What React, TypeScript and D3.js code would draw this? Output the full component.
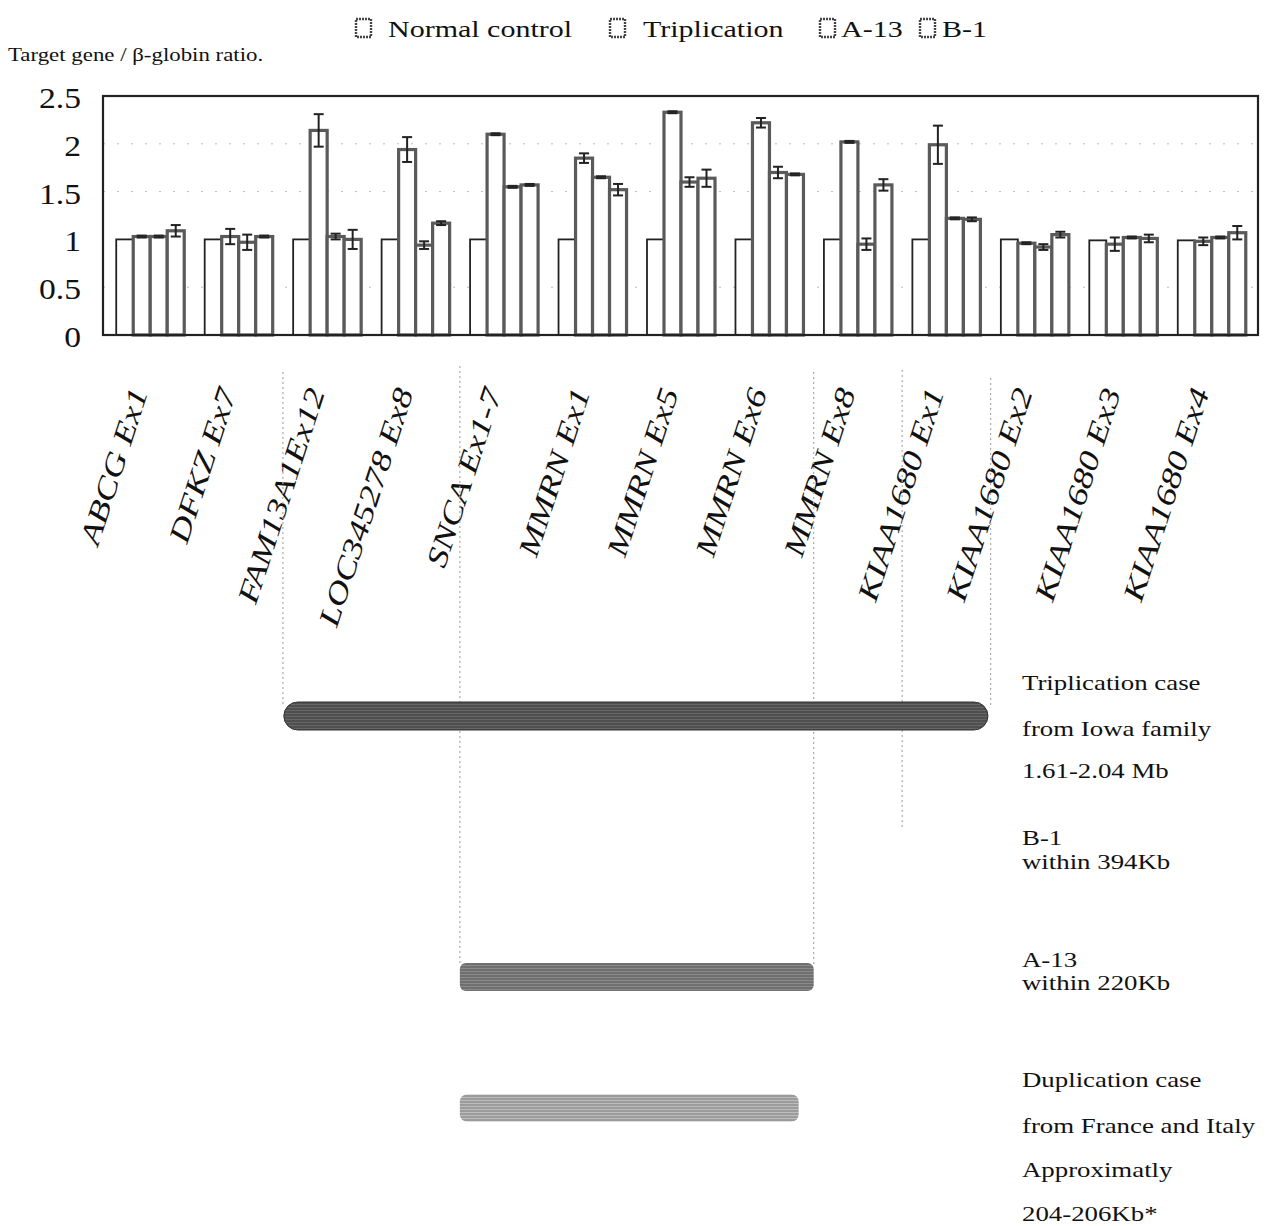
import React from "react";
import * as d3 from "d3";

// ---------- data ----------
const categories = [
  "ABCG Ex1",
  "DFKZ Ex7",
  "FAM13A1Ex12",
  "LOC345278 Ex8",
  "SNCA Ex1-7",
  "MMRN Ex1",
  "MMRN Ex5",
  "MMRN Ex6",
  "MMRN Ex8",
  "KIAA1680 Ex1",
  "KIAA1680 Ex2",
  "KIAA1680 Ex3",
  "KIAA1680 Ex4",
];
const seriesNames = ["Normal control", "Triplication", "A-13", "B-1"];

const normalControl = [1, 1, 1, 1, 1, 1, 1, 1, 1, 1, 1, 0.99, 0.99];
const normalControlErr = [0, 0, 0, 0, 0, 0, 0, 0, 0, 0, 0, 0, 0];
const triplication = [1.03, 1.03, 2.14, 1.94, 2.1, 1.85, 2.33, 2.22, 2.02, 1.99, 0.96, 0.95, 0.98];
const triplicationErr = [0.01, 0.08, 0.17, 0.13, 0.01, 0.05, 0.01, 0.05, 0.01, 0.2, 0.01, 0.07, 0.04];
const a13 = [1.03, 0.97, 1.03, 0.94, 1.55, 1.65, 1.6, 1.7, 0.95, 1.22, 0.92, 1.02, 1.02];
const a13Err = [0.01, 0.08, 0.03, 0.04, 0.01, 0.01, 0.05, 0.06, 0.06, 0.01, 0.03, 0.01, 0.01];
const b1 = [1.09, 1.03, 1.0, 1.17, 1.57, 1.52, 1.64, 1.68, 1.57, 1.21, 1.05, 1.01, 1.07];
const b1Err = [0.06, 0.01, 0.1, 0.02, 0.01, 0.06, 0.09, 0.01, 0.06, 0.02, 0.03, 0.04, 0.07];

const yTicks = [0, 0.5, 1, 1.5, 2, 2.5];
const yTickLabels = ["0", "0.5", "1", "1.5", "2", "2.5"];
const gridValues = [0.5, 1.5, 2];

// genomic regions, expressed as category boundary indices
const regionNames = ["Triplication", "A-13", "Duplication"];
const regionStart = [2.01, 4.0, 4.0];
const regionEnd = [9.97, 8.0, 7.83];

// boundary guide lines (category boundary index)
const guideBoundaries = [2, 4, 8, 9, 10];

const annotationLines = [
  "Triplication case",
  "from Iowa family",
  "1.61-2.04 Mb",
  "B-1",
  "within 394Kb",
  "A-13",
  "within 220Kb",
  "Duplication case",
  "from France and Italy",
  "Approximatly",
  "204-206Kb*",
];

// ---------- layout ----------
const W = 1280;
const H = 1226;
const boxLeft = 103;
const boxRight = 1258;
const boxTop = 96;
const plotBottom = 335;
const bandLeft = 106;
const bandRight = 1256;

const serif = "'Liberation Serif', 'Times New Roman', serif";
const SX = 1.25; // horizontal stretch of the reference's typography

export default function App() {
  const x = d3.scaleBand<string>().domain(categories).range([bandLeft, bandRight]).padding(0);
  const boundary = d3.scaleLinear().domain([0, categories.length]).range([bandLeft, bandRight]);
  const groupW = 68;
  const xs = d3
    .scaleBand<string>()
    .domain(seriesNames)
    .range([0, groupW])
    .padding(0);
  const y = d3.scaleLinear().domain([0, 2.5]).range([plotBottom, boxTop]);

  const values = [normalControl, triplication, a13, b1];
  const errs = [normalControlErr, triplicationErr, a13Err, b1Err];

  const regionY = [716, 977, 1108];
  const regionH = [28, 28, 27];
  const regionFill = ["url(#hatchDark)", "url(#hatchMid)", "url(#hatchLight)"];
  const regionRx = [14, 6, 7];

  const guideTop = [372, 366, 372, 370, 378];
  const guideBottom = [706, 964, 964, 830, 706];

  const annY = [690, 736, 778, 845, 869, 967, 990, 1087, 1133, 1177, 1221];

  const legendBoxX = [356, 610, 820, 920];
  const legendTextX = [388, 643, 841, 942];

  const stretchText = (
    key: string,
    tx: number,
    ty: number,
    txt: string,
    size: number,
    anchor: "start" | "end" | "middle" = "start",
    sx = SX
  ) => (
    <text
      key={key}
      transform={`translate(${tx},${ty}) scale(${sx},1)`}
      fontFamily={serif}
      fontSize={size}
      textAnchor={anchor}
      fill="#111"
    >
      {txt}
    </text>
  );

  return (
    <svg
      width={W}
      height={H}
      viewBox={`0 0 ${W} ${H}`}
      style={{ position: "absolute", left: 0, top: 0, background: "#fff" }}
    >
      <defs>
        <pattern id="hatchDark" patternUnits="userSpaceOnUse" width="4" height="3">
          <rect width="4" height="3" fill="#666" />
          <line x1="0" y1="1" x2="4" y2="1" stroke="#383838" strokeWidth="1" />
        </pattern>
        <pattern id="hatchMid" patternUnits="userSpaceOnUse" width="4" height="3">
          <rect width="4" height="3" fill="#8a8a8a" />
          <line x1="0" y1="1" x2="4" y2="1" stroke="#555" strokeWidth="1" />
        </pattern>
        <pattern id="hatchLight" patternUnits="userSpaceOnUse" width="4" height="3">
          <rect width="4" height="3" fill="#bdbdbd" />
          <line x1="0" y1="1" x2="4" y2="1" stroke="#7a7a7a" strokeWidth="1" />
        </pattern>
      </defs>

      {/* y-axis title */}
      {stretchText("ytitle", 8, 61, "Target gene / β-globin ratio.", 18, "start", 1.27)}

      {/* legend */}
      {seriesNames.map((s, i) => (
        <g key={s}>
          <rect
            x={legendBoxX[i]}
            y={19}
            width={15}
            height={18}
            fill="#fff"
            stroke="#444"
            strokeWidth={2.4}
            strokeDasharray="2 1"
          />
          {stretchText("lt" + i, legendTextX[i], 37, s, 24)}
        </g>
      ))}

      {/* gridlines */}
      {gridValues.map((g) => (
        <line
          key={g}
          x1={boxLeft}
          x2={boxRight}
          y1={y(g)}
          y2={y(g)}
          stroke="#bbb"
          strokeWidth={1}
          strokeDasharray="2 12"
        />
      ))}

      {/* bars */}
      {categories.map((c, ci) => {
        const gx = (x(c) as number) + (x.bandwidth() - groupW) / 2;
        return (
          <g key={c}>
            {seriesNames.map((s, si) => {
              const v = values[si][ci];
              const bx = gx + (xs(s) as number);
              const bw = xs.bandwidth();
              return (
                <rect
                  key={s}
                  x={bx}
                  y={y(v)}
                  width={bw}
                  height={plotBottom - y(v)}
                  fill="#fff"
                  stroke={si === 0 ? "#222" : "#5a5a5a"}
                  strokeWidth={si === 0 ? 1.8 : 3.2}
                />
              );
            })}
            {seriesNames.map((s, si) => {
              const v = values[si][ci];
              const e = errs[si][ci];
              if (!e) return null;
              const cx = gx + (xs(s) as number) + xs.bandwidth() / 2;
              const y1 = y(v + e);
              const y2 = y(v - e);
              return (
                <g key={"e" + s} stroke="#222" strokeWidth={2}>
                  <line x1={cx} x2={cx} y1={y1} y2={y2} />
                  <line x1={cx - 5} x2={cx + 5} y1={y1} y2={y1} />
                  <line x1={cx - 5} x2={cx + 5} y1={y2} y2={y2} />
                </g>
              );
            })}
          </g>
        );
      })}

      {/* plot frame */}
      <rect
        x={boxLeft}
        y={boxTop}
        width={boxRight - boxLeft}
        height={plotBottom - boxTop}
        fill="none"
        stroke="#222"
        strokeWidth={2.2}
      />

      {/* y tick labels */}
      {yTicks.map((t, i) => (
        <g key={t}>{stretchText("yt" + i, 81, y(t) + 12, yTickLabels[i], 30, "end", 1.12)}</g>
      ))}

      {/* x labels */}
      {categories.map((c) => {
        const cx = (x(c) as number) + x.bandwidth() / 2;
        return (
          <text
            key={c}
            transform={`translate(${cx - 2},${392}) rotate(-72) scale(1.27,1)`}
            fontFamily={serif}
            fontStyle="italic"
            fontSize={29}
            textAnchor="end"
            fill="#111"
          >
            {c}
          </text>
        );
      })}

      {/* guide lines */}
      {guideBoundaries.map((b, i) => (
        <line
          key={b}
          x1={boundary(b)}
          x2={boundary(b)}
          y1={guideTop[i]}
          y2={guideBottom[i]}
          stroke="#aaa"
          strokeWidth={1.2}
          strokeDasharray="2 3"
        />
      ))}

      {/* genomic region bars */}
      {regionNames.map((r, i) => {
        const x0 = boundary(regionStart[i]);
        const x1 = boundary(regionEnd[i]);
        return (
          <rect
            key={r}
            x={x0}
            y={regionY[i] - regionH[i] / 2}
            width={x1 - x0}
            height={regionH[i]}
            rx={regionRx[i]}
            ry={regionRx[i]}
            fill={regionFill[i]}
            stroke={i === 0 ? "#333" : "none"}
            strokeWidth={1}
          />
        );
      })}

      {/* annotations */}
      {annotationLines.map((t, i) => stretchText("an" + i, 1022, annY[i], t, 22, "start", 1.22))}
    </svg>
  );
}
